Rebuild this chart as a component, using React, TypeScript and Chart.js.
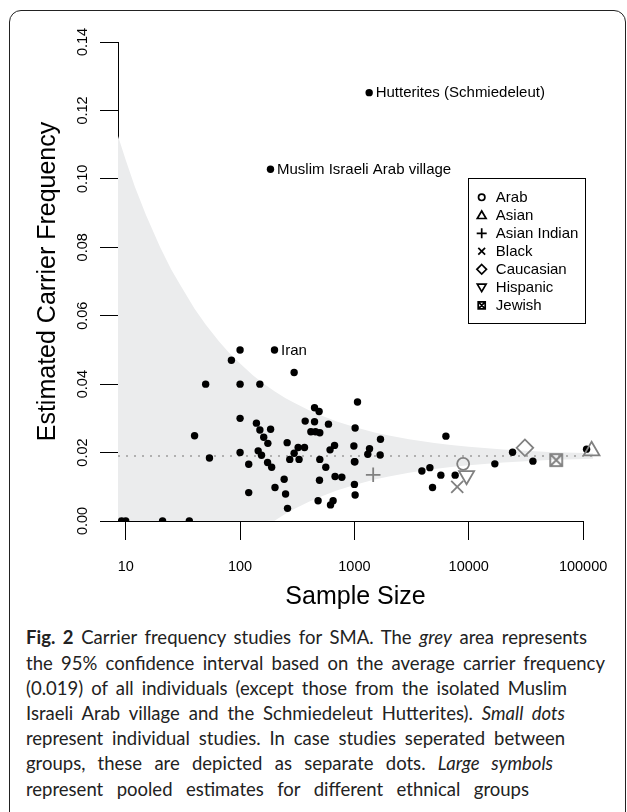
import React, { useEffect, useRef } from 'react';
import { Chart, registerables } from 'chart.js';

Chart.register(...registerables);

// ---------------- data ----------------
const studySampleSizes = [
  9.2, 10, 21, 36, 40, 50, 54, 84, 100, 100, 100, 100, 119, 119, 139, 149, 149, 144, 154,
  161, 175, 174, 185, 189, 202, 243, 250, 260, 258, 272, 297, 297, 322, 328, 366, 371, 448,
  491, 448, 416, 457, 498, 593, 498, 562, 612, 670, 495, 677, 776, 481, 618, 651, 1064, 1014,
  989, 1000, 1010, 1000, 1014, 1690, 1355, 1309, 1679, 6310, 3890, 4570, 5700, 4820, 7600,
  16900, 24150, 36400, 107200,
];
const studyCarrierFreqs = [
  0, 0, 0, 0, 0.0249, 0.04, 0.0184, 0.047, 0.05, 0.04, 0.03, 0.02, 0.0166, 0.0083, 0.0286,
  0.0266, 0.04, 0.0205, 0.0192, 0.0245, 0.0227, 0.0171, 0.0268, 0.0157, 0.0098, 0.0122,
  0.0079, 0.0037, 0.0229, 0.018, 0.0434, 0.0198, 0.0215, 0.018, 0.0215, 0.0292, 0.0331,
  0.032, 0.029, 0.0261, 0.0261, 0.0258, 0.0283, 0.018, 0.0157, 0.0208, 0.0221, 0.0119,
  0.013, 0.0128, 0.0059, 0.0047, 0.0059, 0.0348, 0.0272, 0.0219, 0.0173, 0.0173, 0.0107,
  0.0076, 0.0239, 0.0211, 0.0195, 0.0193, 0.0248, 0.0146, 0.0156, 0.0134, 0.0098, 0.0134,
  0.0167, 0.0201, 0.0175, 0.021,
];

const labeledStudyNames = ['Iran', 'Muslim Israeli Arab village', 'Hutterites (Schmiedeleut)'];
const labeledStudySizes = [200, 184.5, 1346];
const labeledStudyFreqs = [0.05, 0.1028, 0.1252];

const groupNames = ['Arab', 'Asian', 'Asian Indian', 'Black', 'Caucasian', 'Hispanic', 'Jewish'];
const groupSampleSizes = [8930, 118600, 1459, 7925, 30970, 9570, 58200];
const groupCarrierFreqs = [0.0167, 0.0205, 0.0135, 0.01, 0.0214, 0.0133, 0.0178];

const meanCarrierFreq = 0.019;

const bandSampleSizes = [
  8.56, 10, 12, 15, 20, 25, 30, 40, 50, 65, 80, 100, 130, 160, 200, 250, 300, 400, 500, 700,
  1000, 1500, 2000, 3000, 5000, 7000, 10000, 20000, 50000, 122000,
];
const bandUpper = [
  0.1125, 0.1055, 0.0978, 0.0895, 0.08, 0.0735, 0.069, 0.062, 0.0574, 0.0526, 0.0492, 0.046,
  0.0425, 0.0402, 0.0379, 0.0359, 0.0345, 0.0324, 0.031, 0.0291, 0.0275, 0.0259, 0.025,
  0.0239, 0.0228, 0.0222, 0.0217, 0.0209, 0.0202, 0.0198,
];
const bandLower = [
  0, 0, 0, 0, 0, 0, 0, 0, 0, 0, 0, 0, 0, 0, 0.0001, 0.0021, 0.0036, 0.0056, 0.007, 0.0089,
  0.0105, 0.0121, 0.013, 0.0141, 0.0152, 0.0158, 0.0163, 0.0171, 0.0178, 0.0182,
];

const xTickValues = [10, 100, 1000, 10000, 100000];
const xTickLabels = ['10', '100', '1000', '10000', '100000'];
const yTickValues = [0, 0.02, 0.04, 0.06, 0.08, 0.1, 0.12, 0.14];
const yTickLabels = ['0.00', '0.02', '0.04', '0.06', '0.08', '0.10', '0.12', '0.14'];

// ---------------- styles ----------------
const FONT = "'Liberation Sans', Arial, Helvetica, sans-serif";
const groupKinds = ['circle', 'triangle', 'plus', 'cross', 'diamond', 'triangleDown', 'squareX'];

function makeSquareX(size: number, stroke: string, lw: number) {
  const c = document.createElement('canvas');
  c.width = size;
  c.height = size;
  const g = c.getContext('2d')!;
  g.strokeStyle = stroke;
  g.lineWidth = lw;
  const a = (size - 12) / 2;
  g.strokeRect(a, a, 12, 12);
  g.beginPath();
  g.moveTo(a, a);
  g.lineTo(a + 12, a + 12);
  g.moveTo(a + 12, a);
  g.lineTo(a, a + 12);
  g.stroke();
  return c;
}

function drawLegendSymbol(ctx: CanvasRenderingContext2D, kind: string, x: number, y: number) {
  ctx.beginPath();
  switch (kind) {
    case 'circle':
      ctx.arc(x, y, 3.2, 0, Math.PI * 2);
      break;
    case 'triangle':
      ctx.moveTo(x, y - 4.3);
      ctx.lineTo(x + 4.4, y + 3.2);
      ctx.lineTo(x - 4.4, y + 3.2);
      ctx.closePath();
      break;
    case 'triangleDown':
      ctx.moveTo(x, y + 4.3);
      ctx.lineTo(x + 4.4, y - 3.2);
      ctx.lineTo(x - 4.4, y - 3.2);
      ctx.closePath();
      break;
    case 'plus':
      ctx.moveTo(x - 5, y);
      ctx.lineTo(x + 5, y);
      ctx.moveTo(x, y - 5);
      ctx.lineTo(x, y + 5);
      break;
    case 'cross':
      ctx.moveTo(x - 3.4, y - 3.4);
      ctx.lineTo(x + 3.4, y + 3.4);
      ctx.moveTo(x + 3.4, y - 3.4);
      ctx.lineTo(x - 3.4, y + 3.4);
      break;
    case 'diamond':
      ctx.moveTo(x, y - 4.8);
      ctx.lineTo(x + 4.8, y);
      ctx.lineTo(x, y + 4.8);
      ctx.lineTo(x - 4.8, y);
      ctx.closePath();
      break;
    case 'squareX':
      ctx.rect(x - 3.5, y - 3.5, 7, 7);
      ctx.moveTo(x - 3.5, y - 3.5);
      ctx.lineTo(x + 3.5, y + 3.5);
      ctx.moveTo(x + 3.5, y - 3.5);
      ctx.lineTo(x - 3.5, y + 3.5);
      break;
  }
  ctx.stroke();
}

const extrasPlugin = {
  id: 'extras',
  afterDatasetsDraw(chart: any) {
    const { ctx, chartArea, scales } = chart;
    const xs = scales.x;
    const ys = scales.y;
    ctx.save();
    // x-axis line (from plot left edge to last tick)
    ctx.strokeStyle = '#000';
    ctx.lineWidth = 1;
    const yb = Math.round(chartArea.bottom) + 0.5;
    ctx.beginPath();
    ctx.moveTo(chartArea.left, yb);
    ctx.lineTo(xs.getPixelForValue(xTickValues[xTickValues.length - 1]) + 0.5, yb);
    ctx.stroke();

    // labels for outlying studies
    ctx.fillStyle = '#000';
    ctx.font = `15px ${FONT}`;
    ctx.textBaseline = 'middle';
    ctx.textAlign = 'left';
    labeledStudyNames.forEach((name, i) => {
      const px = xs.getPixelForValue(labeledStudySizes[i]);
      const py = ys.getPixelForValue(labeledStudyFreqs[i]);
      ctx.fillText(name, px + 6.5, py + 0.5);
    });

    // legend
    const boxL = chartArea.right - 124.7;
    const boxT = 178.3;
    const boxW = 117.4;
    const boxH = 145;
    ctx.strokeStyle = '#000';
    ctx.lineWidth = 1;
    ctx.strokeRect(Math.round(boxL) + 0.5, Math.round(boxT) + 0.5, Math.round(boxW), Math.round(boxH));
    ctx.font = `15px ${FONT}`;
    groupNames.forEach((name, i) => {
      const cy = boxT + 19 + i * 18;
      ctx.lineWidth = 1.7;
      drawLegendSymbol(ctx, groupKinds[i], boxL + 13.4, cy);
      ctx.fillText(name, boxL + 27.5, cy + 0.5);
    });
    ctx.restore();
  },
};

export default function App() {
  const ref = useRef<HTMLCanvasElement>(null);

  useEffect(() => {
    const canvas = ref.current!;
    const squareX = makeSquareX(18, '#808080', 1.8);
    const pooledStyles: any[] = ['circle', 'triangle', 'cross', 'crossRot', 'rectRot', 'triangle', squareX];
    const pooledRotation = [0, 0, 0, 0, 0, 180, 0];
    const pooledRadius = [6, 9.1, 7.3, 8.5, 8.3, 8.7, 8];

    const bandUpperPts = bandSampleSizes.map((n, i) => ({ x: n, y: bandUpper[i] }));
    const bandLowerPts = bandSampleSizes.map((n, i) => ({ x: n, y: bandLower[i] }));
    const meanPts = [
      { x: bandSampleSizes[0], y: meanCarrierFreq },
      { x: bandSampleSizes[bandSampleSizes.length - 1], y: meanCarrierFreq },
    ];
    const dotPts = studySampleSizes
      .map((n, i) => ({ x: n, y: studyCarrierFreqs[i] }))
      .concat(labeledStudySizes.map((n, i) => ({ x: n, y: labeledStudyFreqs[i] })));
    const pooledPts = groupSampleSizes.map((n, i) => ({ x: n, y: groupCarrierFreqs[i] }));

    const chart = new Chart(canvas, {
      type: 'line',
      data: {
        datasets: [
          {
            label: 'CI upper',
            data: bandUpperPts,
            borderWidth: 0,
            borderColor: 'rgba(0,0,0,0)',
            backgroundColor: '#ebeced',
            pointRadius: 0,
            fill: '+1',
            order: 10,
          },
          {
            label: 'CI lower',
            data: bandLowerPts,
            borderWidth: 0,
            borderColor: 'rgba(0,0,0,0)',
            pointRadius: 0,
            fill: false,
            order: 10,
          },
          {
            label: 'mean',
            data: meanPts,
            borderColor: '#b0b0b0',
            borderWidth: 2,
            borderDash: [2, 6],
            pointRadius: 0,
            fill: false,
            order: 8,
          },
          {
            type: 'scatter',
            label: 'studies',
            data: dotPts,
            pointRadius: 3.7,
            pointBackgroundColor: '#000',
            pointBorderWidth: 0,
            showLine: false,
            order: 5,
            clip: { left: 0, top: 10, right: 10, bottom: 0 },
          } as any,
          {
            type: 'scatter',
            label: 'pooled',
            data: pooledPts,
            pointStyle: pooledStyles,
            rotation: pooledRotation,
            pointRadius: pooledRadius,
            pointBorderColor: '#808080',
            pointBackgroundColor: 'rgba(0,0,0,0)',
            pointBorderWidth: 1.8,
            showLine: false,
            order: 1,
            clip: false,
          } as any,
        ],
      },
      options: {
        responsive: false,
        animation: false,
        events: [],
        layout: { padding: { left: 0, right: 34, top: 42, bottom: 0 } },
        plugins: {
          legend: { display: false },
          tooltip: { enabled: false },
        },
        scales: {
          x: {
            type: 'logarithmic',
            min: 8.56,
            max: 122000,
            position: 'bottom',
            afterBuildTicks: (s: any) => {
              s.ticks = xTickValues.map((v) => ({ value: v }));
            },
            afterFit: (s: any) => {
              s.height = 99;
            },
            grid: {
              display: true,
              drawOnChartArea: false,
              drawTicks: true,
              tickLength: 19,
              color: '#000',
              lineWidth: 1,
            },
            border: { display: false },
            ticks: {
              autoSkip: false,
              maxRotation: 0,
              minRotation: 0,
              padding: 18,
              color: '#000',
              font: { family: FONT, size: 14.5 },
              callback: (_v: any, i: number) => xTickLabels[i],
            },
            title: {
              display: true,
              text: 'Sample Size',
              color: '#000',
              font: { family: FONT, size: 25 },
              padding: { top: 0, bottom: 8 },
            },
          },
          y: {
            type: 'linear',
            min: 0,
            max: 0.14,
            afterBuildTicks: (s: any) => {
              s.ticks = yTickValues.map((v) => ({ value: v }));
            },
            afterFit: (s: any) => {
              s.width = 118;
            },
            grid: {
              display: true,
              drawOnChartArea: false,
              drawTicks: true,
              tickLength: 18,
              color: '#000',
              lineWidth: 1,
            },
            border: { display: true, color: '#000', width: 1 },
            ticks: {
              minRotation: 90,
              maxRotation: 90,
              crossAlign: 'center',
              padding: 3,
              color: '#000',
              font: { family: FONT, size: 14.5 },
              callback: (_v: any, i: number) => yTickLabels[i],
            },
            title: {
              display: true,
              text: 'Estimated Carrier Frequency',
              color: '#000',
              font: { family: FONT, size: 25 },
              padding: { top: 33, bottom: 0 },
            },
          },
        },
      } as any,
      plugins: [extrasPlugin],
    });
    return () => chart.destroy();
  }, []);

  const line = (w: number): React.CSSProperties => ({
    whiteSpace: 'nowrap',
    height: 25.2,
    lineHeight: '25.2px',
    width: w,
    textAlign: 'justify',
    textAlignLast: 'justify',
  });

  return (
    <div
      style={{
        position: 'absolute',
        left: 0,
        top: 0,
        width: 627,
        height: 812,
        overflow: 'hidden',
        background: '#fff',
      }}
    >
      <div
        style={{
          position: 'absolute',
          left: 9,
          top: 10,
          width: 617,
          height: 900,
          border: '1.6px solid #222',
          borderRadius: 12,
          boxSizing: 'border-box',
        }}
      />
      <canvas
        ref={ref}
        width={627}
        height={620}
        style={{ position: 'absolute', left: 0, top: 0, width: 627, height: 620 }}
      />
      <div
        style={{
          position: 'absolute',
          left: 26,
          top: 625.4,
          fontFamily: "Lato, 'Open Sans', sans-serif",
          fontSize: 18.5,
          color: '#222',
        }}
      >
        <div style={line(561)}>
          <b>Fig. 2</b> Carrier frequency studies for SMA. The <i>grey</i> area represents
        </div>
        <div style={line(579)}>the 95% confidence interval based on the average carrier frequency</div>
        <div style={line(541)}>(0.019) of all individuals (except those from the isolated Muslim</div>
        <div style={line(539)}>
          Israeli Arab village and the Schmiedeleut Hutterites). <i>Small dots</i>
        </div>
        <div style={line(539)}>represent individual studies. In case studies seperated between</div>
        <div style={line(527)}>
          groups, these are depicted as separate dots. <i>Large symbols</i>
        </div>
        <div style={line(503)}>represent pooled estimates for different ethnical groups</div>
      </div>
    </div>
  );
}
